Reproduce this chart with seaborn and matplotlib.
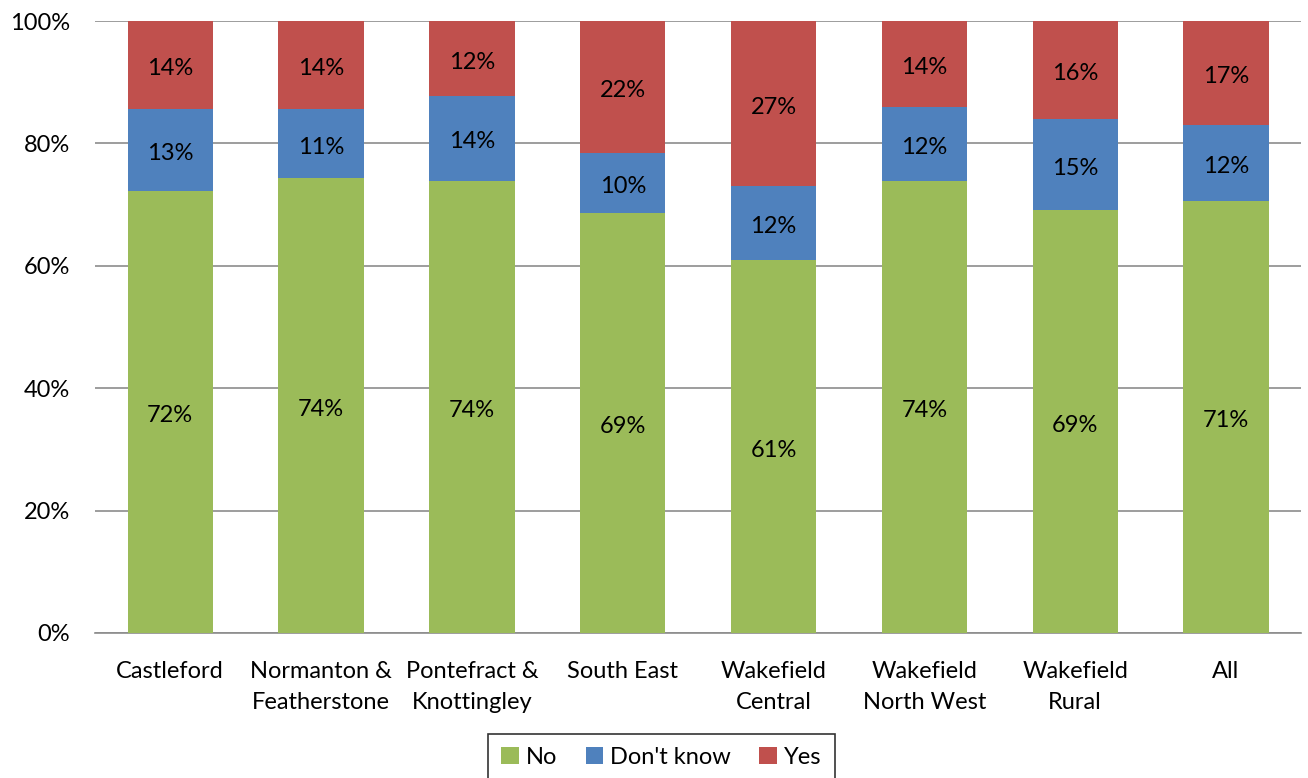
import matplotlib
matplotlib.use("Agg")
import matplotlib.pyplot as plt
import seaborn as sns
import pandas as pd
from matplotlib.patches import Patch

categories = ["Castleford", "Normanton &\nFeatherstone", "Pontefract &\nKnottingley",
              "South East", "Wakefield\nCentral", "Wakefield\nNorth West",
              "Wakefield\nRural", "All"]
no_vals = [72.2, 74.3, 73.9, 68.6, 60.9, 73.9, 69.1, 70.6]
dk_vals = [13.4, 11.4, 13.9, 9.8, 12.1, 12.1, 14.9, 12.4]
yes_vals = [14.4, 14.3, 12.2, 21.6, 27.0, 14.0, 16.0, 17.0]
series_names = ["No", "Don't know", "Yes"]
colors = {"No": "#9BBB59", "Don't know": "#4F81BD", "Yes": "#C0504D"}

sns.set_theme(style="white")
plt.rcParams["font.family"] = ["Lato", "DejaVu Sans"]
plt.rcParams["text.color"] = "black"
plt.rcParams["xtick.color"] = "black"
plt.rcParams["ytick.color"] = "black"

df = pd.DataFrame({"cat": categories, "no": no_vals, "dk": dk_vals, "yes": yes_vals})
df["c_no"] = df["no"]
df["c_dk"] = df["no"] + df["dk"]
df["c_yes"] = df["c_dk"] + df["yes"]

fig = plt.figure(figsize=(13.08, 7.78), dpi=100)
ax = fig.add_axes([0.0725, 0.1864, 0.9225, 0.7866])

ax.set_axisbelow(True)
ax.yaxis.grid(True, color="#8C8C8C", linewidth=1.2)
ax.xaxis.grid(False)

w = 0.565
sns.barplot(data=df, x="cat", y="c_yes", color=colors["Yes"], width=w, ax=ax,
            saturation=1, errorbar=None, linewidth=0, zorder=2)
sns.barplot(data=df, x="cat", y="c_dk", color=colors["Don't know"], width=w, ax=ax,
            saturation=1, errorbar=None, linewidth=0, zorder=3)
sns.barplot(data=df, x="cat", y="c_no", color=colors["No"], width=w, ax=ax,
            saturation=1, errorbar=None, linewidth=0, zorder=4)

fs = 17
off = 0.6
for i, row in df.iterrows():
    ax.text(i, row["no"] / 2 - off, f"{row['no']:.0f}%", ha="center", va="center",
            fontsize=fs, zorder=5)
    ax.text(i, row["no"] + row["dk"] / 2 - off, f"{row['dk']:.0f}%", ha="center",
            va="center", fontsize=fs, zorder=5)
    ax.text(i, row["c_dk"] + row["yes"] / 2 - off, f"{row['yes']:.0f}%", ha="center",
            va="center", fontsize=fs, zorder=5)

ax.set_ylim(0, 100)
ax.set_xlim(-0.5, len(categories) - 0.5)
ax.set_yticks([0, 20, 40, 60, 80, 100])
ax.set_yticklabels([f"{v}%" for v in [0, 20, 40, 60, 80, 100]], fontsize=fs)
ax.tick_params(axis="x", labelsize=fs, pad=20, length=0)
ax.tick_params(axis="y", pad=18, length=0)
ax.set_xlabel("")
ax.set_ylabel("")
for s in ["top", "right", "left"]:
    ax.spines[s].set_visible(False)
ax.spines["bottom"].set_color("#8C8C8C")
ax.spines["bottom"].set_linewidth(1.2)
for lbl in ax.get_xticklabels():
    lbl.set_linespacing(1.6)

handles = [Patch(facecolor=colors[n], edgecolor="none", label=n) for n in series_names]
leg = fig.legend(handles=handles, loc="upper center", bbox_to_anchor=(0.5057, 0.072),
                 ncol=3, fontsize=fs, frameon=True, fancybox=False, handlelength=0.75,
                 handleheight=0.75, handletextpad=0.3, columnspacing=1.2,
                 borderpad=0.55)
leg.get_frame().set_edgecolor("black")
leg.get_frame().set_linewidth(1.2)

fig.savefig("out.png", dpi=100)
